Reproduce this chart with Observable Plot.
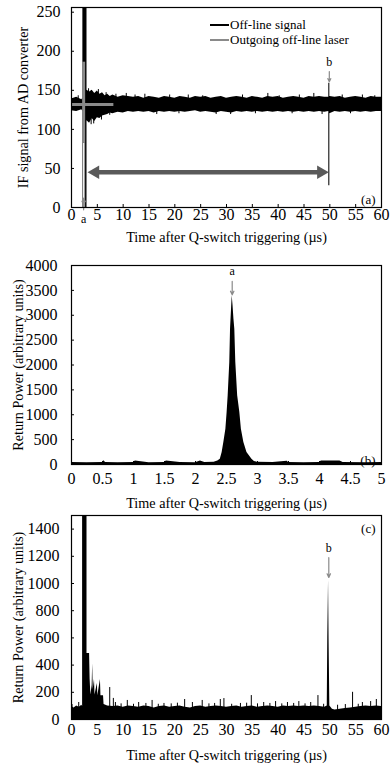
<!DOCTYPE html>
<html><head><meta charset="utf-8">
<script src="https://cdn.jsdelivr.net/npm/d3@7"></script>
<script src="https://cdn.jsdelivr.net/npm/@observablehq/plot@0.6"></script>
<style>
body{margin:0;background:#fff;}
#wrap{position:relative;width:390px;height:766px;font-family:"Liberation Serif",serif;color:#000;}
.panel{position:absolute;left:0;}
.leg{position:absolute;left:210px;font-size:13px;display:flex;align-items:center;white-space:nowrap;}
.leg span.sw{display:inline-block;width:19px;height:2.5px;margin-right:1px;}
</style></head><body><div id="wrap"></div>
<script>
// ---------- shared text ----------
const xTitle = "Time after Q-switch triggering (\u00b5s)";
const yTitleA = "IF signal from AD converter";
const yTitleBC = "Return Power (arbitrary units)";
const panelLabels = ["(a)", "(b)", "(c)"];
const legendLabels = ["Off-line signal", "Outgoing off-line laser"];

// ---------- panel (a): IF signal envelope (upper / lower) ----------
const aT  = [0, 1, 2, 2.2, 2.2, 3.0, 3.0, 3.5, 4, 4.5, 5, 5.5, 6, 6.5, 7, 7.5, 8, 9, 10, 11, 12, 13, 14, 15, 16, 17, 18, 19, 20, 21, 22, 23, 24, 25, 26, 27, 28, 29, 30, 31, 32, 33, 34, 35, 36, 37, 38, 39, 40, 41, 42, 43, 44, 45, 46, 47, 48, 49, 49.8, 49.8, 50.0, 50.0, 51, 52, 53, 54, 55, 56, 57, 58, 59, 60];
const aHi = [139, 141, 138, 140, 260, 260, 150, 148, 150, 146, 149, 145, 147, 143, 145, 142, 144, 141, 143, 142, 141, 142, 140, 142, 141, 140, 142, 141, 140, 142, 141, 140, 142, 141, 142, 140, 141, 142, 140, 141, 142, 141, 140, 142, 141, 140, 142, 141, 142, 140, 141, 142, 141, 140, 142, 141, 142, 141, 141, 159, 159, 142, 141, 142, 140, 141, 142, 141, 140, 142, 141, 141];
const aLo = [124, 123, 125, 123, 0, 0, 111, 108, 114, 110, 115, 114, 117, 118, 119, 121, 120, 122, 121, 123, 122, 123, 122, 123, 121, 123, 122, 123, 122, 123, 122, 123, 124, 122, 123, 122, 121, 123, 122, 121, 123, 122, 123, 122, 123, 122, 123, 122, 123, 122, 123, 122, 123, 122, 123, 122, 123, 122, 123, 28, 28, 120, 123, 122, 123, 122, 123, 122, 123, 122, 123, 123];
const aLevel = 131;
const aSpikeT = [1.3, 3.3, 3.8, 4.3, 5.2, 5.8, 6.7, 7.4, 8.6, 10.6, 12.3, 14.2, 16.5, 19.0, 20.8, 22.6, 25.4, 28.0, 30.8, 33.1, 35.6, 38.0, 40.2, 42.7, 44.1, 46.9, 48.5, 52.4, 54.0, 56.3, 58.7];
const aSpikeV = [143, 152, 106, 107, 151, 112, 147, 118, 145, 146, 144, 145, 119, 144, 120, 144, 143, 119, 119, 144, 120, 146, 143, 120, 144, 146, 119, 144, 120, 144, 143];
// outgoing laser trace
const laserSpan = [0, 8.2];
const laserLevel = 132;
const laserPulseT = 2.35;
const laserPulse = [82, 186];
// annotations
const arrowSpan = [3.1, 49.8];
const arrowLevel = 45;
const markA = {t: 2.35, from: -3, to: 12, label: "a"};
const markB = {t: 49.9, from: 174, to: 161, label: "b"};

// ---------- panel (b): return power near 2.5 us ----------
const bT = [0, 0.25, 0.5, 0.52, 0.55, 0.75, 1.0, 1.03, 1.25, 1.5, 1.53, 1.75, 2.0, 2.08, 2.15, 2.3, 2.36, 2.40, 2.43, 2.457, 2.49, 2.51, 2.527, 2.553, 2.565, 2.592, 2.605, 2.62, 2.634, 2.65, 2.68, 2.715, 2.74, 2.78, 2.83, 2.91, 2.95, 3.0, 3.25, 3.48, 3.5, 3.75, 4.0, 4.03, 4.33, 4.38, 4.75, 5.0];
const bV = [40, 35, 40, 75, 40, 35, 40, 70, 35, 40, 70, 40, 35, 70, 40, 45, 70, 105, 240, 440, 710, 1045, 1380, 2050, 2720, 3390, 3200, 2920, 2720, 2050, 1380, 1045, 710, 440, 240, 105, 60, 45, 40, 65, 40, 35, 40, 70, 70, 40, 35, 40];
const markBa = {t: 2.592, from: 3680, to: 3410, label: "a"};

// ---------- panel (c): return power over 60 us ----------
const cT = [0, 0.5, 1, 1.5, 2.0, 2.15, 2.15, 3.0, 3.0, 3.5, 3.6, 3.75, 4.0, 4.1, 4.2, 4.45, 4.55, 5.0, 5.1, 5.6, 5.7, 6.2, 6.3, 7, 8, 9, 10, 11, 12, 13, 14, 15, 16, 17, 18, 19, 20, 21, 22, 23, 24, 25, 26, 27, 28, 29, 30, 31, 32, 33, 34, 35, 36, 37, 38, 39, 40, 41, 42, 43, 44, 45, 46, 47, 48, 49, 49.5, 49.6, 49.75, 49.85, 50.0, 50.2, 50.5, 51, 52, 53, 54, 55, 56, 57, 58, 59, 60];
const cV = [95, 85, 100, 90, 105, 95, 1600, 1600, 485, 485, 300, 180, 250, 410, 220, 295, 180, 265, 175, 295, 175, 175, 110, 100, 95, 100, 90, 100, 95, 90, 100, 95, 85, 95, 100, 90, 95, 100, 90, 85, 95, 100, 90, 95, 100, 95, 90, 95, 100, 90, 95, 100, 90, 95, 100, 95, 90, 100, 95, 100, 95, 100, 95, 100, 95, 90, 100, 600, 1022, 600, 100, 90, 75, 70, 75, 80, 85, 90, 95, 100, 95, 100, 95];
const cSpikeT = [0.1, 1.4, 7.4, 8.1, 8.5, 9.6, 10.8, 12.0, 13, 14.4, 15.6, 16.8, 17.9, 19.3, 20.5, 21.9, 23.4, 25.3, 26.6, 27.7, 28.8, 29.5, 31.0, 32.7, 33.9, 34.8, 36.0, 37.2, 38.4, 39.5, 40.7, 41.8, 43.0, 44, 45.2, 46.3, 47.7, 48.8, 51.5, 53.0, 54.4, 55.5, 56.3, 57.9, 59];
const cSpikeV = [110, 125, 235, 155, 125, 115, 140, 112, 125, 118, 140, 112, 118, 115, 120, 147, 125, 140, 115, 118, 147, 154, 112, 118, 120, 176, 115, 125, 118, 132, 115, 125, 118, 132, 115, 125, 176, 112, 105, 110, 200, 112, 125, 132, 147];
const markCb = {t: 49.8, from: 1190, to: 1045, label: "b"};

// ---------- ticks ----------
const xTicks60 = [0, 5, 10, 15, 20, 25, 30, 35, 40, 45, 50, 55, 60];
const xTicks5 = [0, 0.5, 1, 1.5, 2, 2.5, 3, 3.5, 4, 4.5, 5];
const yTicksA = [0, 50, 100, 150, 200, 250];
const yTicksB = [0, 500, 1000, 1500, 2000, 2500, 3000, 3500, 4000];
const yTicksC = [0, 200, 400, 600, 800, 1000, 1200, 1400];

const FONT = "Liberation Serif, serif";
const GRAY = "#8a8a8a";
const TICK_FS = 16;
const TITLE_FS = 14.2;

const fmt = d => String(d);
function axes(xt, yt, yPad, xPad) {
  return [
    Plot.axisY(yt, {tickSize: 0, tickPadding: yPad, label: null, fontSize: TICK_FS, tickFormat: fmt, fontFamily: FONT}),
    Plot.axisY(yt, {tickSize: 3, dx: 3, fill: "none", label: null}),
    Plot.axisX(xt, {tickSize: 0, tickPadding: xPad, label: null, tickFormat: fmt, fontSize: TICK_FS, fontFamily: FONT}),
    Plot.axisX(xt, {tickSize: 3, dy: -3, fill: "none", label: null}),
    Plot.frame({stroke: "black", strokeWidth: 1.2})
  ];
}
function titles(yTitle, xDy, yDx) {
  return [
    Plot.text([xTitle], {frameAnchor: "bottom", dy: xDy, text: d => d, fontSize: TITLE_FS, fontFamily: FONT, textAnchor: "middle", lineAnchor: "middle"}),
    Plot.text([yTitle], {frameAnchor: "left", dx: yDx, rotate: -90, text: d => d, fontSize: TITLE_FS, fontFamily: FONT, textAnchor: "middle", lineAnchor: "middle"})
  ];
}
function annot(m) {
  return [
    Plot.arrow([m], {x1: "t", x2: "t", y1: "from", y2: "to", stroke: GRAY, strokeWidth: 1.2, headLength: 5, headAngle: 50}),
    Plot.text([m], {x: "t", y: "from", text: "label", dy: -6, fontSize: 12, fontFamily: FONT, textAnchor: "middle", lineAnchor: "bottom"})
  ];
}
const wrap = document.getElementById("wrap");
function place(svg, top) { svg.classList.add("panel"); svg.style.top = top + "px"; wrap.appendChild(svg); }
const STYLE = {fontFamily: FONT, fontSize: "14px", overflow: "visible", background: "transparent"};

// ---------- panel (a) ----------
const aData = aT.map((t, i) => ({t, hi: aHi[i], lo: aLo[i]}));
const aSp = aSpikeT.map((t, i) => ({t, v: aSpikeV[i]}));
const plotA = Plot.plot({
  width: 390, height: 247, marginLeft: 71, marginRight: 9, marginTop: 7, marginBottom: 40,
  x: {domain: [0, 60]}, y: {domain: [0, 256]},
  style: STYLE,
  marks: [
    Plot.areaY(aData, {x: "t", y1: "lo", y2: "hi", fill: "black", clip: true}),
    Plot.ruleX(aSp, {x: "t", y1: aLevel, y2: "v", stroke: "black", strokeWidth: 1}),
    Plot.ruleX([laserPulseT], {y1: 0, y2: laserPulse[0], stroke: GRAY, strokeWidth: 3}),
    Plot.ruleX([laserPulseT], {y1: 0, y2: laserPulse[0], stroke: "white", strokeWidth: 1}),
    Plot.ruleX([laserPulseT], {y1: laserPulse[0], y2: laserPulse[1], stroke: GRAY, strokeWidth: 3}),
    Plot.ruleY([laserLevel], {x1: laserSpan[0], x2: laserSpan[1], stroke: GRAY, strokeWidth: 3}),
    Plot.ruleY([arrowLevel], {x1: arrowSpan[0], x2: arrowSpan[1], stroke: "#5a5a5a", strokeWidth: 4.5, insetLeft: 8, insetRight: 8}),
    Plot.dot([arrowSpan[0]], {x: d => d, y: arrowLevel, symbol: "triangle", r: 5, fill: "#5a5a5a", rotate: -90, dx: 7.8}),
    Plot.dot([arrowSpan[1]], {x: d => d, y: arrowLevel, symbol: "triangle", r: 5, fill: "#5a5a5a", rotate: 90, dx: -7.8}),
    Plot.arrow([markA], {x1: "t", x2: "t", y1: "from", y2: "to", stroke: GRAY, strokeWidth: 1.2, headLength: 5, headAngle: 50}),
    Plot.text([markA], {x: "t", frameAnchor: "bottom", text: "label", dy: 12, fontSize: 12, fontFamily: FONT, textAnchor: "middle", lineAnchor: "middle"}),
    ...annot(markB),
    Plot.text([panelLabels[0]], {frameAnchor: "bottom-right", text: d => d, dx: -6, dy: -4, textAnchor: "end", lineAnchor: "bottom", fontSize: 13, fontFamily: FONT}),
    ...axes(xTicks60, yTicksA, 11, 1),
    ...titles(yTitleA, 30, -48)
  ]
});
place(plotA, 0);

// legend (a)
const legColors = ["black", GRAY];
const legTops = [17, 32];
legendLabels.forEach((lab, i) => {
  const d = document.createElement("div");
  d.className = "leg";
  d.style.top = legTops[i] + "px";
  d.innerHTML = `<span class="sw" style="background:${legColors[i]}"></span><span>${lab}</span>`;
  wrap.appendChild(d);
});

// ---------- panel (b) ----------
const bData = bT.map((t, i) => ({t, v: bV[i]}));
const plotB = Plot.plot({
  width: 390, height: 262, marginLeft: 71, marginRight: 9, marginTop: 18, marginBottom: 45,
  x: {domain: [0, 5]}, y: {domain: [0, 4000]},
  style: STYLE,
  marks: [
    Plot.areaY(bData, {x: "t", y1: 0, y2: "v", fill: "black", clip: true}),
    ...annot(markBa),
    Plot.text([panelLabels[1]], {frameAnchor: "bottom-right", text: d => d, dx: -6, dy: 0, textAnchor: "end", lineAnchor: "bottom", fontSize: 13, fontFamily: FONT}),
    ...axes(xTicks5, yTicksB, 14, 8),
    ...titles(yTitleBC, 39, -53)
  ]
});
place(plotB, 247);

// ---------- panel (c) ----------
const cData = cT.map((t, i) => ({t, v: cV[i]}));
const cSp = cSpikeT.map((t, i) => ({t, v: cSpikeV[i]}));
const plotC = Plot.plot({
  width: 390, height: 257, marginLeft: 71, marginRight: 9, marginTop: 6, marginBottom: 47,
  x: {domain: [0, 60]}, y: {domain: [0, 1500]},
  style: STYLE,
  marks: [
    Plot.areaY(cData, {x: "t", y1: 0, y2: "v", fill: "black", clip: true}),
    Plot.ruleX(cSp, {x: "t", y1: 0, y2: "v", stroke: "black", strokeWidth: 1}),
    ...annot(markCb),
    Plot.text([panelLabels[2]], {frameAnchor: "top-right", text: d => d, dx: -6, dy: 8, textAnchor: "end", lineAnchor: "top", fontSize: 13, fontFamily: FONT}),
    ...axes(xTicks60, yTicksC, 12, 4),
    ...titles(yTitleBC, 36, -53)
  ]
});
place(plotC, 509);
</script></body></html>
